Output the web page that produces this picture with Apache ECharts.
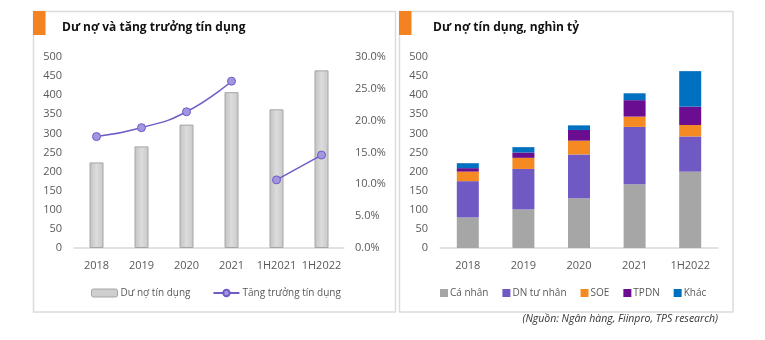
<!DOCTYPE html>
<html><head><meta charset="utf-8">
<script src="https://cdn.jsdelivr.net/npm/echarts@6/dist/echarts.min.js"></script>
<style>html,body{margin:0;padding:0;background:#fff}#c{width:765px;height:340px}</style>
</head><body><div id="c"></div>
<script>
// Left chart
const catsL = ['2018','2019','2020','2021','1H2021','1H2022'];
const duNo = [224, 266, 323, 408, 363, 465];
const tangTruong = [17.5, 18.9, 21.4, 26.2, null, null];
const tangTruongH = [null, null, null, null, 10.7, 14.6];
// Right chart
const catsR = ['2018','2019','2020','2021','1H2022'];
const caNhan = [80, 101, 130, 167, 200];
const dnTuNhan = [95, 106, 115, 150, 92];
const soe = [25, 29, 36, 27, 30];
const tpdn = [9, 14, 28, 43, 48];
const khac = [13, 14, 12, 18, 93];

const FONT = '"Open Sans", "Noto Sans", sans-serif';
const LBL = '#595959';
const chart = echarts.init(document.getElementById('c'));

const barGrad = new echarts.graphic.LinearGradient(0,0,1,0,[
  {offset:0,color:'#c2c2c2'},{offset:0.5,color:'#dcdcdc'},{offset:1,color:'#c8c8c8'}]);

const lineStyleColor = '#6F5BC8';
const markerStyle = {color:'#A395DE', borderColor:'#6F5BC8', borderWidth:1};

const stackColors = ['#A6A6A6','#7159C4','#F58A22','#6A0D91','#0070C0'];
const stackNames = ['Cá nhân','DN tư nhân','SOE','TPDN','Khác'];
const stackData = [caNhan, dnTuNhan, soe, tpdn, khac];

const option = {
  backgroundColor:'#fff',
  animation:false,
  textStyle:{fontFamily:FONT},
  title:[
    {text:'Dư nợ và tăng trưởng tín dụng', left:62, top:22, padding:0, textStyle:{fontFamily:FONT,fontSize:12,fontWeight:'bold',color:'#111'}},
    {text:'Dư nợ tín dụng, nghìn tỷ', left:433, top:22, padding:0, textStyle:{fontFamily:FONT,fontSize:12,fontWeight:'bold',color:'#111'}}
  ],
  graphic:[
    {type:'rect', shape:{x:33.5,y:11.5,width:362,height:300.5}, style:{fill:'none',stroke:'#dcdcdc',lineWidth:1.5}, z:-1},
    {type:'rect', shape:{x:399.5,y:11.5,width:333.5,height:300.5}, style:{fill:'none',stroke:'#dcdcdc',lineWidth:1.5}, z:-1},
    {type:'rect', shape:{x:33,y:11,width:12.5,height:24}, style:{fill:'#F58220'}},
    {type:'rect', shape:{x:399,y:11,width:12.5,height:24}, style:{fill:'#F58220'}},
    {type:'text', right:765-718, top:314, style:{text:'(Nguồn: Ngân hàng, Fiinpro, TPS research)', font:'italic 10.5px '+FONT, fill:'#333'}}
  ],
  legend:[
    {left:91, top:288, padding:0, itemWidth:26, itemHeight:8, itemGap:22, data:[
      {name:'Dư nợ tín dụng', itemStyle:{color:'#cfcfcf', borderColor:'#a6a6a6', borderWidth:1}},
      {name:'Tăng trưởng tín dụng'}],
      textStyle:{fontFamily:FONT,fontSize:10,color:LBL, padding:[0,0,0,-2]}, selectedMode:false},
    {left:440, top:288, padding:0, itemWidth:8, itemHeight:8, itemGap:14, icon:'rect', data:stackNames,
      textStyle:{fontFamily:FONT,fontSize:10,color:LBL, padding:[0,0,0,-3]}, selectedMode:false}
  ],
  grid:[
    {left:74, width:270, top:57, height:191},
    {left:440, width:278, top:57, height:191}
  ],
  xAxis:[
    {type:'category', gridIndex:0, data:catsL, axisTick:{show:false},
      axisLine:{lineStyle:{color:'#d9d9d9',width:1.5}},
      axisLabel:{color:LBL,fontSize:11,fontFamily:FONT,margin:12,interval:0}},
    {type:'category', gridIndex:1, data:catsR, axisTick:{show:false},
      axisLine:{lineStyle:{color:'#d9d9d9',width:1.5}},
      axisLabel:{color:LBL,fontSize:11,fontFamily:FONT,margin:12,interval:0}}
  ],
  yAxis:[
    {type:'value', gridIndex:0, min:0, max:500, interval:50, splitLine:{show:false},
      axisLabel:{color:LBL,fontSize:11,fontFamily:FONT,margin:12}},
    {type:'value', gridIndex:0, min:0, max:30, interval:5, splitLine:{show:false}, position:'right',
      axisLabel:{color:LBL,fontSize:11,fontFamily:FONT,margin:11, formatter:v=>v.toFixed(1)+'%'}},
    {type:'value', gridIndex:1, min:0, max:500, interval:50, splitLine:{show:false},
      axisLabel:{color:LBL,fontSize:11,fontFamily:FONT,margin:12}}
  ],
  series:[
    {name:'Dư nợ tín dụng', type:'bar', xAxisIndex:0, yAxisIndex:0, data:duNo, barWidth:14,
      itemStyle:{color:barGrad, borderColor:'#a6a6a6', borderWidth:1}},
    {name:'Tăng trưởng tín dụng', type:'line', xAxisIndex:0, yAxisIndex:1, data:tangTruong, smooth:0.5,
      symbol:'circle', symbolSize:8, lineStyle:{color:lineStyleColor,width:1.5}, itemStyle:markerStyle, color:lineStyleColor},
    {name:'Tăng trưởng tín dụng', type:'line', xAxisIndex:0, yAxisIndex:1, data:tangTruongH, smooth:0.5,
      symbol:'circle', symbolSize:8, lineStyle:{color:lineStyleColor,width:1.5}, itemStyle:markerStyle, color:lineStyleColor},
    ...stackData.map((d,i)=>({name:stackNames[i], type:'bar', stack:'t', xAxisIndex:1, yAxisIndex:2, data:d,
      barWidth:22, itemStyle:{color:stackColors[i]}}))
  ]
};
chart.setOption(option);
</script></body></html>
